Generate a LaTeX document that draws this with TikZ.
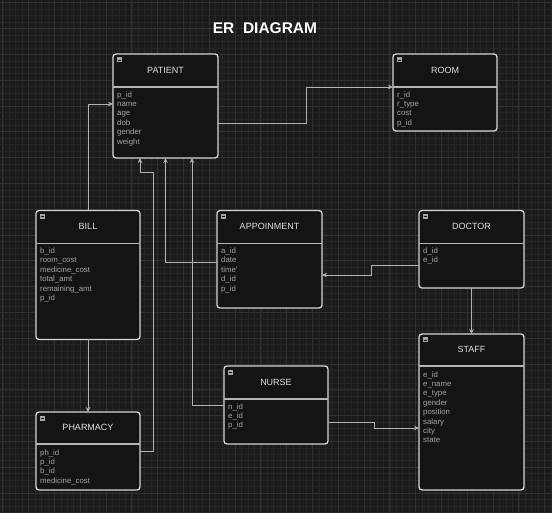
\documentclass[tikz,border=0pt]{standalone}
\usepackage{fontspec}
\setmainfont{Liberation Sans}
\usepackage{tikz}
\usetikzlibrary{arrows.meta,calc}

\definecolor{bg}{HTML}{1B1B1B}
\definecolor{gridminor}{HTML}{252525}
\definecolor{gridmajor}{HTML}{303030}
\definecolor{boxfill}{HTML}{141414}
\definecolor{boxline}{HTML}{D6D6D6}
\definecolor{fieldtext}{HTML}{A6A6A6}
\definecolor{linkline}{HTML}{B4B4B4}

\begin{document}
\begin{tikzpicture}[x=1pt,y=-1pt,
    entity/.style={draw=boxline,line width=1.3pt,fill=boxfill,rounded corners=3pt,
      inner sep=0pt,outer sep=0pt,anchor=north west},
    divider/.style={draw=boxline!85!black,line width=1.2pt},
    head/.style={text=white!88!black,inner sep=0pt,text height=6.4pt,text depth=0pt,
      font=\fontsize{9}{10}\selectfont},
    field/.style={text=fieldtext,inner sep=0pt,anchor=west,text height=5.8pt,text depth=1.7pt,
      font=\fontsize{7.8}{9}\selectfont},
    icon/.style={fill=gray!70,minimum width=5pt,minimum height=5pt,inner sep=0pt,
      path picture={\draw[boxfill,line width=0.6pt]
        ([xshift=1pt]path picture bounding box.west) -- ([xshift=-1pt]path picture bounding box.east);}},
    link/.style={draw=linkline,line width=0.8pt,-{Stealth[length=5pt,width=4.5pt]}},
    titleline/.style={draw=gray!45!black,line width=0.8pt,dash pattern=on 3pt off 2pt}]

  % page and grid
  \fill[bg] (0,0) rectangle (552,513);
  \useasboundingbox (0,0) rectangle (552,513);
  \foreach \i in {0,...,85} {
    \draw[gridminor,line width=0.4pt] ({2.7+6.45*\i},0) -- ++(0,513);
    \draw[gridminor,line width=0.4pt] (0,{2.7+6.45*\i}) -- ++(552,0);
  }
  \foreach \i in {0,...,21} {
    \draw[gridmajor,line width=0.5pt] ({2.7+25.8*\i},0) -- ++(0,513);
    \draw[gridmajor,line width=0.5pt] (0,{2.7+25.8*\i}) -- ++(552,0);
  }

  % title
  \node[text=white,inner xsep=1pt,font=\bfseries\fontsize{15.5}{18}\selectfont] (title) at (265,28.5) {ER\ \ DIAGRAM};
  \draw[titleline] (3,28.5) -- (title.west);
  \draw[titleline] (title.east) -- (552,28.5);

  % PATIENT
  \node[entity,minimum width=105pt,minimum height=104pt] (patient) at (113,54) {};
  \draw[divider] ($(patient.north west)+(0,33)$) -- ($(patient.north east)+(0,33)$);
  \node[head] (patient-t) at ($(patient.north)+(0,16)$) {PATIENT};
  \node[icon] (patient-i) at ($(patient.north west)+(6,6)$) {};
  \foreach \f [count=\i from 0] in {p\_id,name,age,dob,gender,weight}
    \node[field] (patient-f\i) at ($(patient.north west)+(4,41+9.4*\i)$) {\f};

  % ROOM
  \node[entity,minimum width=104pt,minimum height=77pt] (room) at (393,54) {};
  \draw[divider] ($(room.north west)+(0,33)$) -- ($(room.north east)+(0,33)$);
  \node[head] (room-t) at ($(room.north)+(0,16)$) {ROOM};
  \node[icon] (room-i) at ($(room.north west)+(6,6)$) {};
  \foreach \f [count=\i from 0] in {r\_id,r\_type,cost,p\_id}
    \node[field] (room-f\i) at ($(room.north west)+(4,41+9.4*\i)$) {\f};

  % BILL
  \node[entity,minimum width=104pt,minimum height=129pt] (bill) at (36,210.5) {};
  \draw[divider] ($(bill.north west)+(0,33)$) -- ($(bill.north east)+(0,33)$);
  \node[head] (bill-t) at ($(bill.north)+(0,16)$) {BILL};
  \node[icon] (bill-i) at ($(bill.north west)+(6,6)$) {};
  \foreach \f [count=\i from 0] in {b\_id,room\_cost,medicine\_cost,total\_amt,remaining\_amt,p\_id}
    \node[field] (bill-f\i) at ($(bill.north west)+(4,41+9.4*\i)$) {\f};

  % APPOINMENT
  \node[entity,minimum width=105pt,minimum height=97.5pt] (appoinment) at (217,210.5) {};
  \draw[divider] ($(appoinment.north west)+(0,33)$) -- ($(appoinment.north east)+(0,33)$);
  \node[head] (appoinment-t) at ($(appoinment.north)+(0,16)$) {APPOINMENT};
  \node[icon] (appoinment-i) at ($(appoinment.north west)+(6,6)$) {};
  \foreach \f [count=\i from 0] in {a\_id,date,time',d\_id,p\_id}
    \node[field] (appoinment-f\i) at ($(appoinment.north west)+(4,41+9.4*\i)$) {\f};

  % DOCTOR
  \node[entity,minimum width=105pt,minimum height=77.5pt] (doctor) at (419,210.5) {};
  \draw[divider] ($(doctor.north west)+(0,33)$) -- ($(doctor.north east)+(0,33)$);
  \node[head] (doctor-t) at ($(doctor.north)+(0,16)$) {DOCTOR};
  \node[icon] (doctor-i) at ($(doctor.north west)+(6,6)$) {};
  \foreach \f [count=\i from 0] in {d\_id,e\_id}
    \node[field] (doctor-f\i) at ($(doctor.north west)+(4,41+9.4*\i)$) {\f};

  % STAFF
  \node[entity,minimum width=105pt,minimum height=156pt] (staff) at (419,334) {};
  \draw[divider] ($(staff.north west)+(0,32)$) -- ($(staff.north east)+(0,32)$);
  \node[head] (staff-t) at ($(staff.north)+(0,15.5)$) {STAFF};
  \node[icon] (staff-i) at ($(staff.north west)+(6,6)$) {};
  \foreach \f [count=\i from 0] in {e\_id,e\_name,e\_type,gender,position,salary,city,state}
    \node[field] (staff-f\i) at ($(staff.north west)+(4,41+9.4*\i)$) {\f};

  % PHARMACY
  \node[entity,minimum width=104pt,minimum height=78pt] (pharmacy) at (36,412) {};
  \draw[divider] ($(pharmacy.north west)+(0,32)$) -- ($(pharmacy.north east)+(0,32)$);
  \node[head] (pharmacy-t) at ($(pharmacy.north)+(0,15.5)$) {PHARMACY};
  \node[icon] (pharmacy-i) at ($(pharmacy.north west)+(6,6)$) {};
  \foreach \f [count=\i from 0] in {ph\_id,p\_id,b\_id,medicine\_cost}
    \node[field] (pharmacy-f\i) at ($(pharmacy.north west)+(4,41+9.4*\i)$) {\f};

  % NURSE
  \node[entity,minimum width=104pt,minimum height=78pt] (nurse) at (224,366) {};
  \draw[divider] ($(nurse.north west)+(0,33)$) -- ($(nurse.north east)+(0,33)$);
  \node[head] (nurse-t) at ($(nurse.north)+(0,16)$) {NURSE};
  \node[icon] (nurse-i) at ($(nurse.north west)+(6,6)$) {};
  \foreach \f [count=\i from 0] in {n\_id,e\_id,p\_id}
    \node[field] (nurse-f\i) at ($(nurse.north west)+(4,41+9.4*\i)$) {\f};

  % relations
  \draw[link] ([yshift=-69pt]patient.north east) -- ++(88,0) |- ([yshift=-33pt]room.north west);
  \draw[link] (bill.north) |- ([yshift=-50pt]patient.north west);
  \draw[link] ([yshift=-39pt]pharmacy.north east) -| (153,172) -| ([xshift=-25.5pt]patient.south);
  \draw[link] ([yshift=-51.5pt]appoinment.north west) -| (patient.south);
  \draw[link] ([yshift=-39pt]nurse.north west) -| ([xshift=26.5pt]patient.south);
  \draw[link] ([yshift=-54.5pt]doctor.north west) -- ++(-48,0) |- ([yshift=-64.5pt]appoinment.north east);
  \draw[link] (doctor.south) -- (staff.north);
  \draw[link] ([yshift=-56pt]nurse.north east) -- ++(46,0) |- ([yshift=-94pt]staff.north west);
  \draw[link] (bill.south) -- (pharmacy.north);
\end{tikzpicture}
\end{document}
